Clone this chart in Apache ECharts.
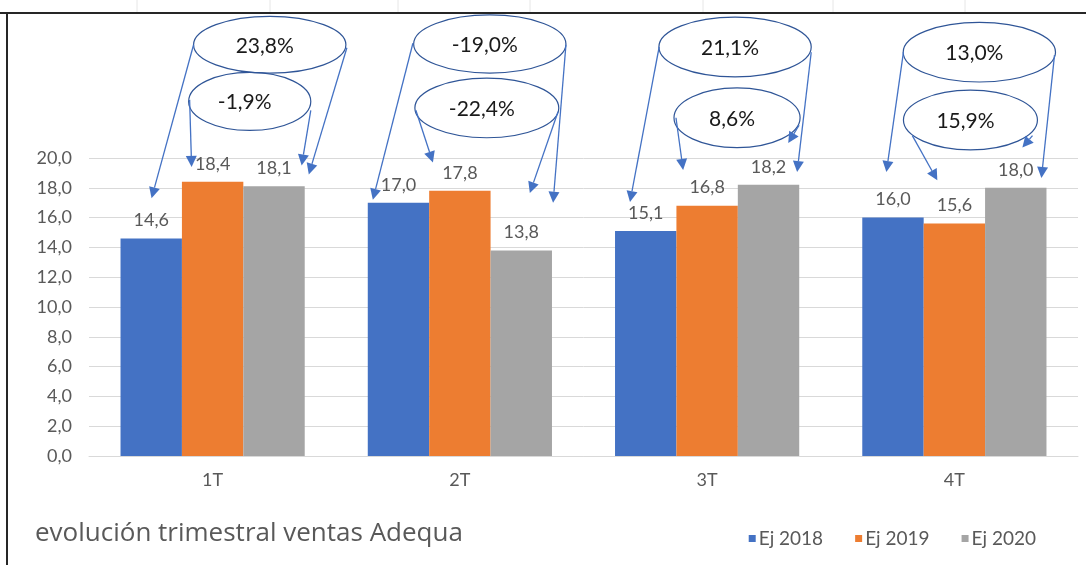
<!DOCTYPE html>
<html>
<head>
<meta charset="utf-8">
<script src="https://cdn.jsdelivr.net/npm/echarts@6/dist/echarts.min.js"></script>
<style>
html,body{margin:0;padding:0;background:#fff;}
#c{width:1086px;height:565px;}
</style>
</head>
<body>
<div id="c"></div>
<script>
// ---- data ----
var categories = ['1T', '2T', '3T', '4T'];
var ej2018 = [14.6, 17.0, 15.1, 16.0];
var ej2019 = [18.4, 17.8, 16.8, 15.6];
var ej2020 = [18.1, 13.8, 18.2, 18.0];
var chg2018to2020 = ['23,8%', '-19,0%', '21,1%', '13,0%'];
var chg2019to2020 = ['-1,9%', '-22,4%', '8,6%', '15,9%'];
var yTicks = [0, 2, 4, 6, 8, 10, 12, 14, 16, 18, 20];

// ---- annotation layout (category-offset in band units, value units) ----
// ellipse: [dx, v, rxBand, ryValue]
var ellTop = [[0.231, 27.6, 0.308, 1.91], [0.121, 27.65, 0.308, 1.95], [0.113, 27.45, 0.308, 2.0], [0.101, 27.1, 0.308, 2.0]];
var ellLow = [[0.150, 23.8, 0.247, 1.95], [0.109, 23.36, 0.291, 2.0], [0.121, 22.7, 0.255, 2.0], [0.065, 22.55, 0.271, 2.0]];
// arrows: [dx1, v1, dx2, v2]
var arrowsLayout = [
  [[-0.077, 27.6, -0.247, 17.3], [0.543, 27.4, 0.389, 18.9], [-0.093, 23.9, -0.085, 19.4], [0.397, 23.2, 0.36, 19.5]],
  [[-0.190, 27.7, -0.352, 17.2], [0.429, 27.6, 0.377, 17.0], [-0.178, 23.2, -0.109, 19.7], [0.397, 23.1, 0.283, 17.65]],
  [[-0.194, 27.45, -0.312, 17.05], [0.421, 27.1, 0.364, 19.06], [-0.126, 22.7, -0.097, 19.2], [0.372, 22.2, 0.328, 21.0]],
  [[-0.206, 27.1, -0.275, 19.06], [0.405, 26.9, 0.352, 18.66], [-0.170, 21.5, -0.069, 18.5], [0.316, 21.5, 0.275, 20.7]]
];

var FONT = 'Lato, "Open Sans", sans-serif';
function fmt(v){ return v.toFixed(1).replace('.', ','); }

var chart = echarts.init(document.getElementById('c'), null, {renderer: 'canvas'});

function barSeries(name, data, color){
  return {
    name: name, type: 'bar', data: data, barGap: '0%', barCategoryGap: '25.5%',
    itemStyle: {color: color},
    label: {show: true, position: 'top', distance: 9, color: '#595959', fontSize: 18, fontFamily: FONT,
      formatter: function(p){ return fmt(p.value); }},
    emphasis: {disabled: true}
  };
}

var option = {
  animation: false,
  backgroundColor: '#fff',
  grid: {left: 89, right: 8, top: 158, bottom: 109, containLabel: false},
  title: {text: 'evolución trimestral ventas Adequa', left: 30, top: 516,
    textStyle: {color: '#595959', fontSize: 26, fontWeight: 'normal', fontFamily: '"Open Sans", sans-serif'}},
  legend: {right: 45, top: 524, itemWidth: 7, itemHeight: 7, itemGap: 32, icon: 'rect',
    textStyle: {color: '#595959', fontSize: 19, fontFamily: FONT, padding: [0, 0, 0, -2]},
    data: ['Ej 2018', 'Ej 2019', 'Ej 2020']},
  xAxis: {type: 'category', data: categories,
    axisLine: {lineStyle: {color: '#d9d9d9'}}, axisTick: {show: false},
    axisLabel: {color: '#595959', fontSize: 18, fontFamily: FONT, margin: 15}},
  yAxis: {type: 'value', min: yTicks[0], max: yTicks[yTicks.length - 1], interval: 2,
    axisLine: {show: false}, axisTick: {show: false},
    splitLine: {lineStyle: {color: '#d9d9d9'}},
    axisLabel: {color: '#595959', fontSize: 18, fontFamily: FONT, margin: 17, formatter: fmt}},
  series: [
    barSeries('Ej 2018', ej2018, '#4472C4'),
    barSeries('Ej 2019', ej2019, '#ED7D31'),
    barSeries('Ej 2020', ej2020, '#A5A5A5')
  ]
};
chart.setOption(option);

function px(i, v){ return chart.convertToPixel({xAxisIndex: 0, yAxisIndex: 0}, [i, v]); }
var bw = px(1, 0)[0] - px(0, 0)[0];
var uh = px(0, 0)[1] - px(0, 1)[1];
function P(i, dx, v){
  var c = px(i, v);
  return [c[0] + dx * bw, c[1]];
}

var BLUE = '#4472C4';
var ELL = '#2F5597';
var elements = [];

function addEllipse(i, e, txt){
  var c = P(i, e[0], e[1]);
  elements.push({type: 'ellipse', shape: {cx: c[0], cy: c[1], rx: e[2] * bw, ry: e[3] * uh},
    style: {fill: 'rgba(255,255,255,0)', stroke: ELL, lineWidth: 1.2}, z: 100});
  elements.push({type: 'text', x: c[0] - 5, y: c[1] + 1,
    style: {text: txt, fill: '#1a1a1a', font: '21px ' + FONT, textAlign: 'center', textVerticalAlign: 'middle'}, z: 101});
}
function addArrow(i, a){
  var s = P(i, a[0], a[1]);
  var t = P(i, a[2], a[3]);
  var dx = t[0] - s[0], dy = t[1] - s[1];
  var len = Math.sqrt(dx * dx + dy * dy);
  var ux = dx / len, uy = dy / len;
  var hl = 11, hw = 5.5;
  var bx = t[0] - ux * hl, by = t[1] - uy * hl;
  elements.push({type: 'line', shape: {x1: s[0], y1: s[1], x2: bx, y2: by},
    style: {stroke: BLUE, lineWidth: 1.3}, z: 102});
  elements.push({type: 'polygon', shape: {points: [[t[0], t[1]], [bx - uy * hw, by + ux * hw], [bx + uy * hw, by - ux * hw]]},
    style: {fill: BLUE}, z: 102});
}

for (var i = 0; i < categories.length; i++){
  addEllipse(i, ellTop[i], chg2018to2020[i]);
  addEllipse(i, ellLow[i], chg2019to2020[i]);
  for (var k = 0; k < arrowsLayout[i].length; k++) addArrow(i, arrowsLayout[i][k]);
}

// frame (spreadsheet chart border)
elements.push({type: 'line', shape: {x1: 0, y1: 13, x2: 1086, y2: 13}, style: {stroke: '#262626', lineWidth: 2}, z: 200});
elements.push({type: 'line', shape: {x1: 7, y1: 13, x2: 7, y2: 565}, style: {stroke: '#262626', lineWidth: 2}, z: 200});
var faint = [137, 270, 398, 530, 703, 833, 965];
faint.forEach(function(x){
  elements.push({type: 'line', shape: {x1: x, y1: 0, x2: x, y2: 12}, style: {stroke: '#e6e6e6', lineWidth: 1}, z: 200});
});

chart.setOption({graphic: {elements: elements}});
</script>
</body>
</html>
